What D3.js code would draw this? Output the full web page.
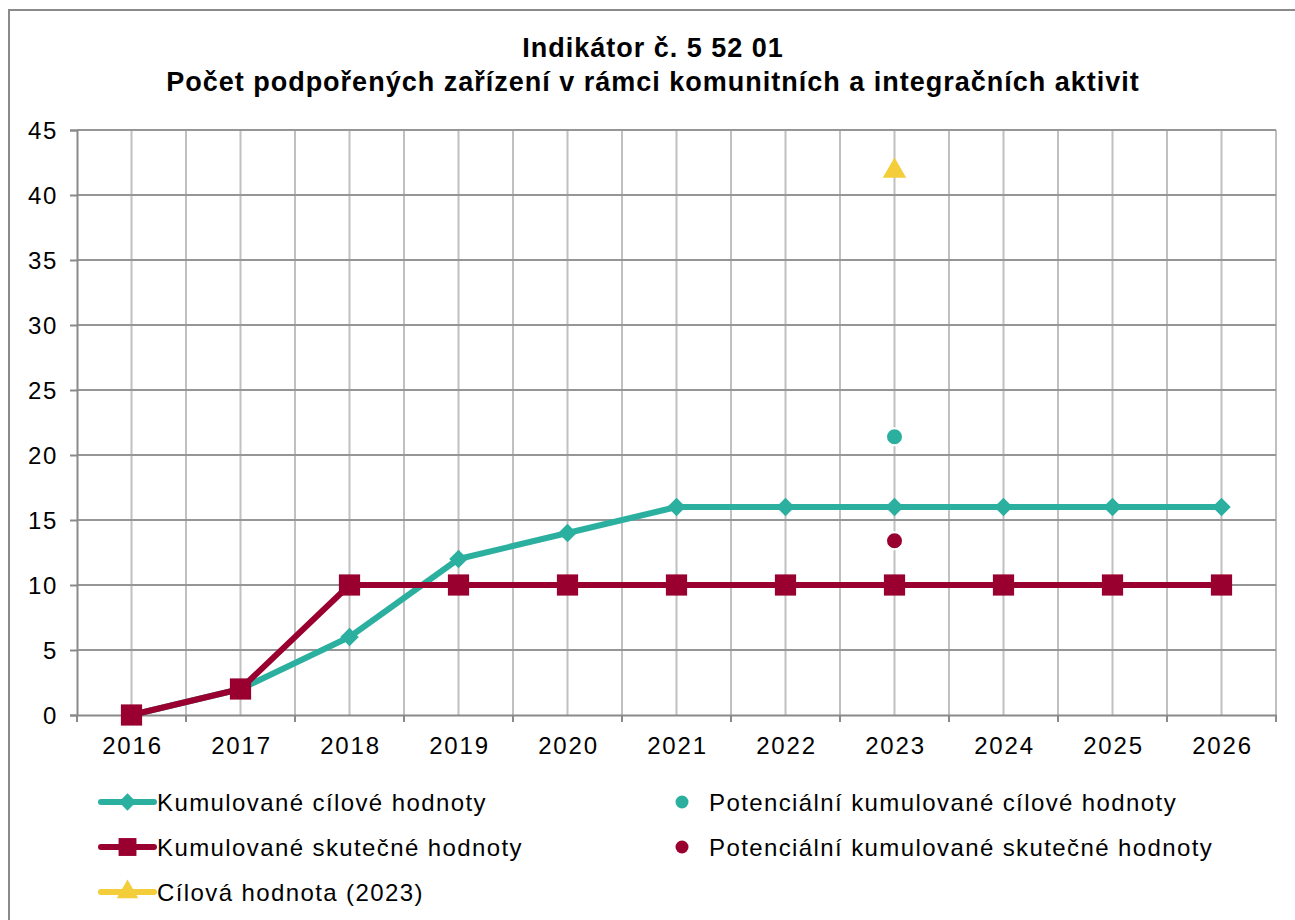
<html>
<head>
<meta charset="utf-8">
<style>
  body { margin: 0; background: #fff; }
  text { font-family: "Liberation Sans", Arial, sans-serif; fill: #000; }
</style>
</head>
<body>
<svg id="chart" width="1295" height="920"></svg>
<script src="https://cdn.jsdelivr.net/npm/d3@7"></script>
<script>
// data
const years = ["2016", "2017", "2018", "2019", "2020", "2021", "2022", "2023", "2024", "2025", "2026"]
const cilove = [0, 2, 6, 12, 14, 16, 16, 16, 16, 16, 16]
const skutecne = [0, 2, 10, 10, 10, 10, 10, 10, 10, 10, 10]
const potencialniCilove = [{ year: "2023", value: 21.4 }]
const potencialniSkutecne = [{ year: "2023", value: 13.4 }]
const cilovaHodnota = [{ year: "2023", value: 42 }]
const yTicks = [0, 5, 10, 15, 20, 25, 30, 35, 40, 45]
const titleLines = ["Indikátor č. 5 52 01", "Počet podpořených zařízení v rámci komunitních a integračních aktivit"]

const teal = "#2BB0A0"
const crimson = "#990030"
const yellow = "#F4CD3A"

let svg = d3.select("#chart")

// outer chart border (only top and left visible)
svg.append("path")
  .attr("d", "M9,920 V10 H1295")
  .attr("fill", "none")
  .attr("stroke", "#8a8a8a")
  .attr("stroke-width", 2)

// title
svg.selectAll(".title")
  .data(titleLines)
  .enter().append("text")
  .attr("class", "title")
  .attr("x", 653)
  .attr("y", (d, i) => 57 + i * 34)
  .attr("text-anchor", "middle")
  .style("font-size", "27px")
  .style("font-weight", "bold")
  .style("letter-spacing", "1px")
  .text(d => d)

let plotLeft = 77, plotRight = 1276, plotTop = 130, plotBottom = 715

let x = d3.scaleBand().domain(years).range([plotLeft, plotRight]).padding(0)
let y = d3.scaleLinear().domain([0, 45]).range([plotBottom, plotTop])
let cx = d => x(d) + x.bandwidth() / 2

// vertical gridlines: band edges and centres
let vLines = []
years.forEach(d => { vLines.push(x(d)); vLines.push(cx(d)) })
vLines.push(plotRight)
svg.append("g").selectAll("line")
  .data(vLines.slice(1))
  .enter().append("line")
  .attr("x1", d => d).attr("x2", d => d)
  .attr("y1", plotTop).attr("y2", plotBottom)
  .attr("stroke", "#c0c0c0")
  .attr("stroke-width", 2)

// horizontal gridlines
svg.append("g").selectAll("line")
  .data(yTicks.slice(1))
  .enter().append("line")
  .attr("x1", plotLeft).attr("x2", plotRight)
  .attr("y1", d => y(d)).attr("y2", d => y(d))
  .attr("stroke", "#969696")
  .attr("stroke-width", 2)

// y axis
let yAxis = svg.append("g")
  .attr("transform", `translate(${plotLeft},0)`)
  .call(d3.axisLeft(y).tickValues(yTicks).tickSize(7).tickPadding(12))
yAxis.select(".domain").attr("stroke", "#8a8a8a").attr("stroke-width", 2)
yAxis.selectAll(".tick line").attr("stroke", "#8a8a8a").attr("stroke-width", 2)
yAxis.selectAll(".tick text")
  .style("font-size", "24px")
  .style("letter-spacing", "1.6px")
  .attr("font-family", null)
  .attr("dy", "0.36em")

// x axis, ticks on band boundaries
let xAxis = svg.append("g")
  .attr("transform", `translate(0,${plotBottom})`)
  .call(d3.axisBottom(x).tickSize(0).tickPadding(22))
xAxis.select(".domain").attr("stroke", "#8a8a8a").attr("stroke-width", 2)
xAxis.selectAll(".tick text")
  .style("font-size", "24px")
  .style("letter-spacing", "1.8px")
  .attr("font-family", null)
  .attr("dx", "1px")
xAxis.selectAll(".bound")
  .data(years.map(d => x(d)).concat([plotRight]))
  .enter().append("line")
  .attr("x1", d => d).attr("x2", d => d)
  .attr("y1", 0).attr("y2", 7)
  .attr("stroke", "#8a8a8a").attr("stroke-width", 2)

// lines
let line = d3.line().x((d, i) => cx(years[i])).y(d => y(d))

svg.append("path")
  .datum(cilove)
  .attr("d", line)
  .attr("fill", "none")
  .attr("stroke", teal)
  .attr("stroke-width", 6)
  .attr("stroke-linejoin", "round")

svg.append("path")
  .datum(skutecne)
  .attr("d", line)
  .attr("fill", "none")
  .attr("stroke", crimson)
  .attr("stroke-width", 6)
  .attr("stroke-linejoin", "round")

let diamond = d3.symbol().type(d3.symbolDiamond2).size(220)
let square = d3.symbol().type(d3.symbolSquare).size(450)
let triangle = d3.symbol().type(d3.symbolTriangle).size(240)

svg.append("g").selectAll("path")
  .data(cilove)
  .enter().append("path")
  .attr("d", diamond)
  .attr("transform", (d, i) => `translate(${cx(years[i])},${y(d)})`)
  .attr("fill", teal)

svg.append("g").selectAll("path")
  .data(skutecne)
  .enter().append("path")
  .attr("d", square)
  .attr("transform", (d, i) => `translate(${cx(years[i])},${y(d)})`)
  .attr("fill", crimson)

// potential values
svg.append("g").selectAll("circle")
  .data(potencialniCilove)
  .enter().append("circle")
  .attr("cx", d => cx(d.year)).attr("cy", d => y(d.value))
  .attr("r", 8.5)
  .attr("fill", teal).attr("stroke", "#fff").attr("stroke-width", 2)

svg.append("g").selectAll("circle")
  .data(potencialniSkutecne)
  .enter().append("circle")
  .attr("cx", d => cx(d.year)).attr("cy", d => y(d.value))
  .attr("r", 8.5)
  .attr("fill", crimson).attr("stroke", "#fff").attr("stroke-width", 2)

svg.append("g").selectAll("path")
  .data(cilovaHodnota)
  .enter().append("path")
  .attr("d", triangle)
  .attr("transform", d => `translate(${cx(d.year)},${y(d.value) + 2})`)
  .attr("fill", yellow)

// legend
let legendLeft = [
  { label: "Kumulované cílové hodnoty", color: teal, sym: d3.symbol().type(d3.symbolDiamond2).size(190) },
  { label: "Kumulované skutečné hodnoty", color: crimson, sym: d3.symbol().type(d3.symbolSquare).size(320) },
  { label: "Cílová hodnota (2023)", color: yellow, sym: d3.symbol().type(d3.symbolTriangle).size(200) }
]
let legendRight = [
  { label: "Potenciální kumulované cílové hodnoty", color: teal },
  { label: "Potenciální kumulované skutečné hodnoty", color: crimson }
]

let lg = svg.append("g").selectAll("g")
  .data(legendLeft)
  .enter().append("g")
  .attr("transform", (d, i) => `translate(0,${802 + i * 45})`)
lg.append("line")
  .attr("x1", 101).attr("x2", 154)
  .attr("stroke", d => d.color).attr("stroke-width", 6).attr("stroke-linecap", "round")
lg.append("path")
  .attr("d", d => d.sym())
  .attr("transform", "translate(127.5,0)")
  .attr("fill", d => d.color)
lg.append("text")
  .attr("x", 157).attr("y", 8.5)
  .style("font-size", "24px")
  .style("letter-spacing", "1.4px")
  .text(d => d.label)

let rg = svg.append("g").selectAll("g")
  .data(legendRight)
  .enter().append("g")
  .attr("transform", (d, i) => `translate(0,${802 + i * 45})`)
rg.append("circle")
  .attr("cx", 682).attr("r", 6.5)
  .attr("fill", d => d.color)
rg.append("text")
  .attr("x", 709).attr("y", 8.5)
  .style("font-size", "24px")
  .style("letter-spacing", "1.4px")
  .text(d => d.label)
</script>
</body>
</html>
